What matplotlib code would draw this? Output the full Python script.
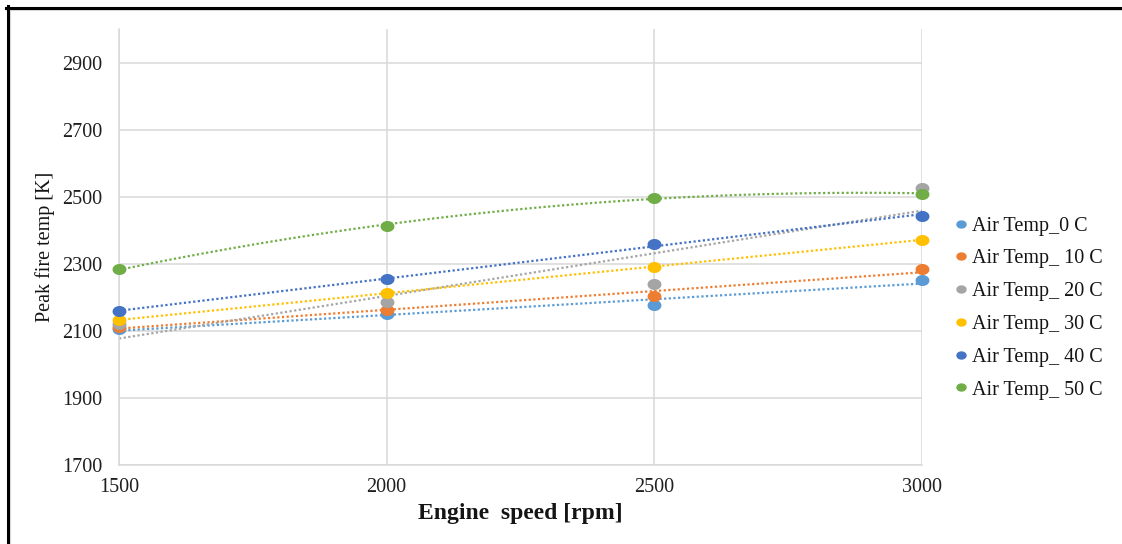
import numpy as np
import matplotlib
matplotlib.use("Agg")
import matplotlib.pyplot as plt
from matplotlib.lines import Line2D
from matplotlib.path import Path

plt.rcParams['font.family'] = ['Liberation Serif', 'DejaVu Serif']

# Data
speed = [1500, 2000, 2500, 3000]
temp_0 = [2105, 2149, 2177, 2252]
temp_10 = [2112, 2162, 2205, 2284]
temp_20 = [2120, 2185, 2241, 2525]
temp_30 = [2133, 2212, 2291, 2372]
temp_40 = [2158, 2255, 2360, 2443]
temp_50 = [2283, 2414, 2497, 2509]

labels = ['Air Temp_0 C', 'Air Temp_ 10 C', 'Air Temp_ 20 C',
          'Air Temp_ 30 C', 'Air Temp_ 40 C', 'Air Temp_ 50 C']
series = [temp_0, temp_10, temp_20, temp_30, temp_40, temp_50]
colors = ['#5B9BD5', '#ED7D31', '#A5A5A5', '#FFC000', '#4472C4', '#70AD47']
# trendline order per series (Excel trendlines)
trend_deg = [1, 1, 1, 1, 1, 2]

# slightly wide dot, the source screenshot is stretched sideways
t = np.linspace(0, 2 * np.pi, 40)
dot = Path(np.column_stack([1.3 * np.cos(t), np.sin(t)]), closed=True)

W, H = 1122, 544
fig = plt.figure(figsize=(W / 100, H / 100), dpi=100)
ax = fig.add_axes([119 / W, 1 - 465 / H, (922 - 119) / W, (465 - 29) / H])

xs = np.array(speed, dtype=float)
xfit = np.linspace(1500, 3000, 200)
handles = []
for vals, col, deg, lab in zip(series, colors, trend_deg, labels):
    coef = np.polyfit(xs, vals, deg)
    ax.plot(xfit, np.polyval(coef, xfit), color=col, lw=1.6,
            linestyle=(0, (1, 1.1)), dash_capstyle='butt', zorder=2)
    ax.plot(xs, vals, ls='none', marker=dot, color=col, ms=9, mec=col,
            zorder=3, clip_on=False)
    handles.append(Line2D([], [], marker=dot, color=col, ls='none', ms=6.5))

ax.set_xlim(1500, 3000)
ax.set_ylim(1700, 3000)
ax.set_xticks([1500, 2000, 2500, 3000])
ax.set_yticks(np.arange(1700, 3000, 200))
ax.grid(True, color='#d9d9d9', lw=1.1)
ax.set_axisbelow(True)
for s in ['top', 'right']:
    ax.spines[s].set_visible(False)
for s in ['left', 'bottom']:
    ax.spines[s].set_color('#d9d9d9')
    ax.spines[s].set_linewidth(1.1)
ax.tick_params(length=0, labelsize=14.5, colors='#1f1f1f')
ax.tick_params(axis='y', pad=12)
ax.tick_params(axis='x', pad=9)

ax.set_xlabel('Engine  speed [rpm]', fontsize=17, fontweight='bold',
              color='#141414', labelpad=5)
ax.set_ylabel('Peak fire temp [K]', fontsize=14.5, color='#141414', labelpad=5)

fig.legend(handles, labels, loc='center left',
           bbox_to_anchor=(955 / W, 1 - 308 / H), frameon=False,
           fontsize=14.5, handlelength=0.6, handletextpad=0.25,
           labelspacing=0.68, borderpad=0, borderaxespad=0,
           labelcolor='#141414')

# frame of the original screenshot (top and left edges)
fig.add_artist(Line2D([7 / W, 1], [1 - 10 / H, 1 - 10 / H], color='#dddddd', lw=1.5))
fig.add_artist(Line2D([10 / W, 10 / W], [0, 1 - 10 / H], color='#dddddd', lw=1.5))
fig.add_artist(Line2D([6 / W, 1], [1 - 7.5 / H, 1 - 7.5 / H], color='black', lw=2.2))
fig.add_artist(Line2D([7.5 / W, 7.5 / W], [0, 1 - 6 / H], color='black', lw=2.2))

fig.savefig('out.png', dpi=100)
